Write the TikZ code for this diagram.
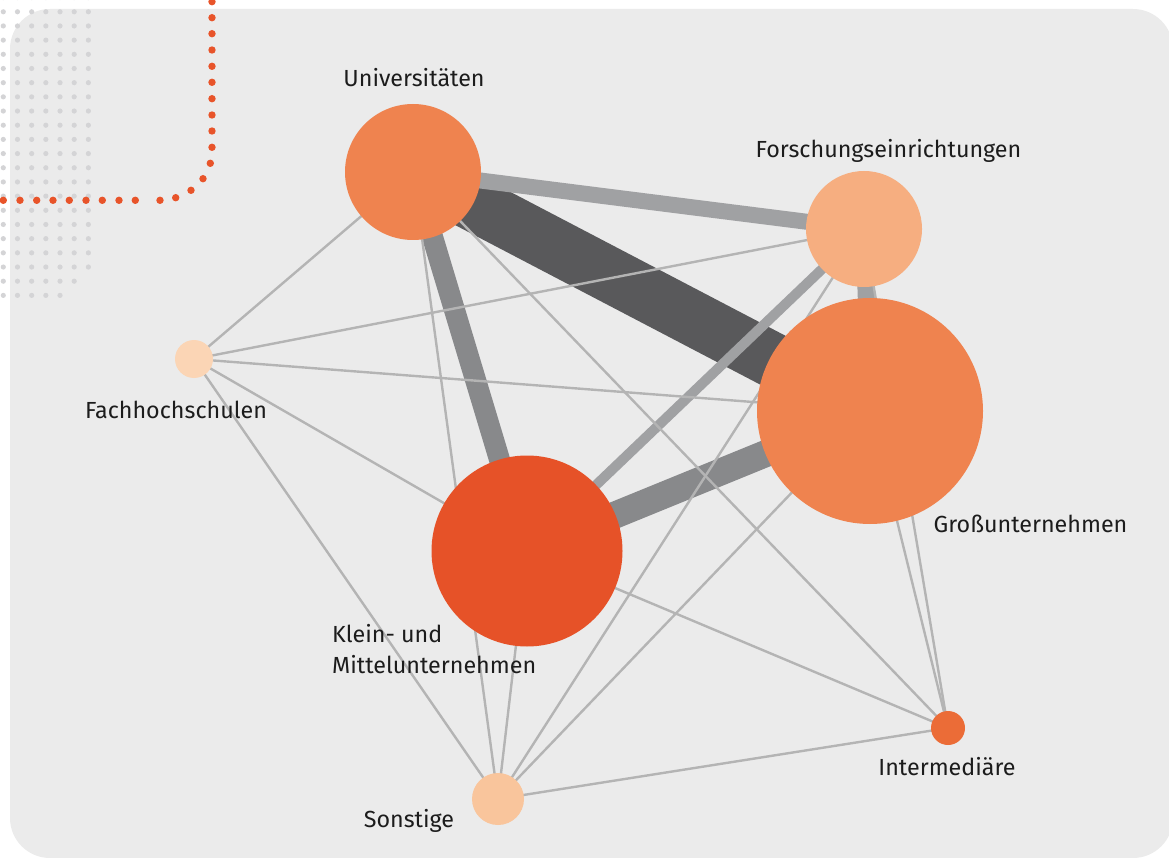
\documentclass[tikz,border=0pt]{standalone}
\usepackage{fontspec}
\setmainfont{Fira Sans}
\definecolor{bg}{HTML}{EBEBEB}
\definecolor{dotgrey}{HTML}{D4D4D6}
\definecolor{dotorange}{HTML}{E8542A}
\definecolor{txt}{HTML}{1C1C1C}
\definecolor{darkband}{HTML}{59595B}
\definecolor{midband}{HTML}{88898B}
\definecolor{lightband}{HTML}{A0A1A3}
\definecolor{thinline}{HTML}{B4B4B4}
\definecolor{cUni}{HTML}{EF834F}
\definecolor{cGross}{HTML}{EF834F}
\definecolor{cKmu}{HTML}{E65228}
\definecolor{cForsch}{HTML}{F6AE80}
\definecolor{cFach}{HTML}{FBD5B5}
\definecolor{cSonst}{HTML}{F9C59C}
\definecolor{cInter}{HTML}{EB6C37}
\pgfdeclarelayer{backlayer}
\pgfdeclarelayer{edgelayer}
\pgfsetlayers{backlayer,edgelayer,main}
\begin{document}
\begin{tikzpicture}[x=1pt,y=-1pt,
  hub/.style={circle, inner sep=0pt, outer sep=0pt, minimum size=#1},
  lab/.style={font=\fontsize{23.3}{31}\selectfont, text=txt, inner sep=0pt},
  weak/.style={line width=2.4pt, draw=thinline},
  band/.style={line width=#1}]
\useasboundingbox (0,0) rectangle (1169,858);

% nodes
\node[hub=136, fill=cUni] (uni) at (413,172) {};
\node[hub=116, fill=cForsch] (forsch) at (864,229) {};
\node[hub=38, fill=cFach] (fach) at (194,359) {};
\node[hub=226, fill=cGross] (gross) at (870,411) {};
\node[hub=191, fill=cKmu] (kmu) at (527,551) {};
\node[hub=34, fill=cInter] (inter) at (948,728) {};
\node[hub=52, fill=cSonst] (sonst) at (498,799) {};

% labels
\node[lab, anchor=base] (luni) at (414,87) {Universitäten};
\node[lab, anchor=base] (lforsch) at (888.5,158) {Forschungseinrichtungen};
\node[lab, anchor=base] (lfach) at (176,418) {Fachhochschulen};
\node[lab, anchor=base] (lgross) at (1030.5,532) {Großunternehmen};
\node[lab, anchor=base] (linter) at (947,775) {Intermediäre};
\node[lab, anchor=base west] (lkmu1) at (332,642) {Klein- und};
\node[lab, anchor=base west] (lkmu2) at (332,673) {Mittelunternehmen};
\node[lab, anchor=base] (lsonst) at (409,827) {Sonstige};

\begin{pgfonlayer}{backlayer}
  \fill[bg, rounded corners=40] (10,9) rectangle (1173,858);
  % grey dot grid
  \foreach \i in {0,...,6}{
    \foreach \j in {0,...,21}{
      \pgfmathtruncatemacro{\s}{\i+\j}
      \ifnum\s<26
        \fill[dotgrey] ({3.3+14.18*\i},{-2.4+14.18*\j}) circle (2.6);
      \fi
    }
  }
  % orange dotted line
  \foreach \y in {1.7,17.7,33.7,50,66.3,82.3,98.7,115,131,147.3}{
    \fill[dotorange] (212,\y) circle (3.7);
  }
  \foreach \p in {(210.3,163.3),(203,178.7),(191,190.3),(175.7,197.7)}{
    \fill[dotorange] \p circle (3.7);
  }
  \foreach \x in {160,135.3,119,102.3,86,69.3,53,36.7,20,3.3}{
    \fill[dotorange] (\x,200.3) circle (3.7);
  }
\end{pgfonlayer}

\begin{pgfonlayer}{edgelayer}
  % strong links
  \draw[band=55, draw=darkband] (uni.center) -- (gross.center);
  \draw[band=16, draw=lightband] (uni.center) -- (forsch.center);
  \draw[band=21, draw=midband] (uni.center) -- (kmu.center);
  \draw[band=27, draw=midband] (kmu.center) -- (gross.center);
  \draw[band=10, draw=lightband] (kmu.center) -- (forsch.center);
  \draw[band=17, draw=lightband] (forsch.center) -- (gross.center);
  % weak links
  \draw[weak] (uni.center) -- (fach.center);
  \draw[weak] (uni.center) -- (sonst.center);
  \draw[weak] (uni.center) -- (inter.center);
  \draw[weak] (fach.center) -- (forsch.center);
  \draw[weak] (fach.center) -- (gross.center);
  \draw[weak] (fach.center) -- (kmu.center);
  \draw[weak] (fach.center) -- (sonst.center);
  \draw[weak] (forsch.center) -- (sonst.center);
  \draw[weak] (forsch.center) -- (inter.center);
  \draw[weak] (gross.center) -- (inter.center);
  \draw[weak] (gross.center) -- (sonst.center);
  \draw[weak] (kmu.center) -- (sonst.center);
  \draw[weak] (kmu.center) -- (inter.center);
  \draw[weak] (sonst.center) -- (inter.center);
\end{pgfonlayer}
\end{tikzpicture}
\end{document}
